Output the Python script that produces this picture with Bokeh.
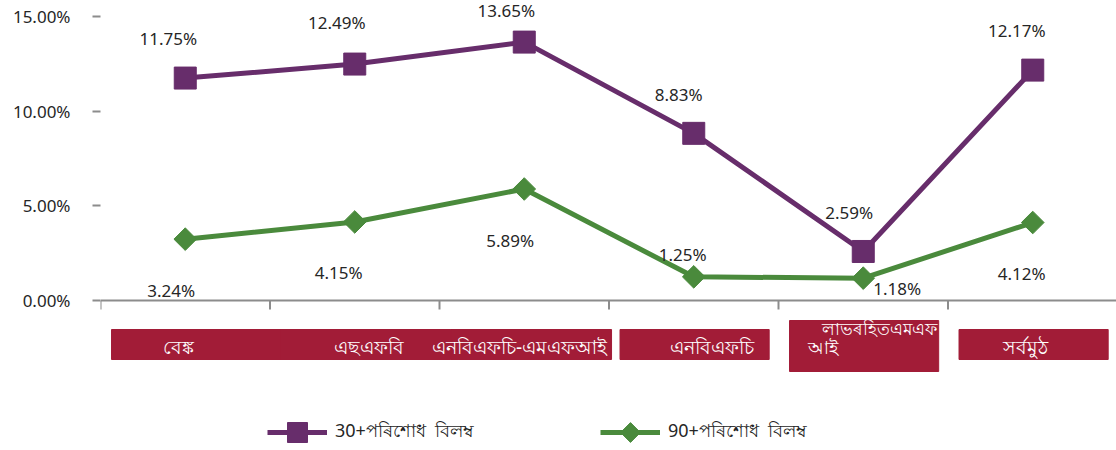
import math
from bokeh.plotting import figure
from bokeh.models import (Legend, LegendItem, FixedTicker, PrintfTickFormatter,
                          ColumnDataSource, Range1d)
from bokeh.core.properties import value
from bokeh.embed import file_html
from bokeh.resources import INLINE

# ---------------- data ----------------
categories = ["বেঙ্ক", "এছএফবি", "এনবিএফচি-এমএফআই", "এনবিএফচি", "লাভৰহিতএমএফআই", "সৰ্বমুঠ"]
series_names = ["30+পৰিশোধ  বিলম্ব", "90+পৰিশোধ  বিলম্ব"]
dpd30 = [11.75, 12.49, 13.65, 8.83, 2.59, 12.17]
dpd90 = [3.24, 4.15, 5.89, 1.25, 1.18, 4.12]
y_ticks = [0, 5, 10, 15]

# ---------------- style / layout ----------------
PURPLE = "#672D6B"
GREEN = "#4A8A3C"
RED = "#A21C37"
GREY = "#8C8C8C"
TXT = "#262626"
FONT = "Noto Sans"

W, H = 1116, 450
PX_PER_CAT = 169.5
PX_PER_UNIT = 18.93
LEFT = 100
AXIS_Y = 300
x_end = (W - LEFT) / PX_PER_CAT
y_top = AXIS_Y / PX_PER_UNIT
y_bot = y_top - H / PX_PER_UNIT


def px_x(px):   # page pixel -> data x
    return (px - LEFT) / PX_PER_CAT


def px_y(py):   # page pixel -> data y
    return (AXIS_Y - py) / PX_PER_UNIT


# label offsets (screen px) relative to each marker
off30 = [(-17, -40), (-18, -42), (-18, -32), (-15, -39), (-14, -39), (-16, -40)]
off90 = [(-14, 51), (-16, 51), (-14, 51), (-11, -22), (34, 10), (-11, 51)]

p = figure(width=W, height=H, output_backend="svg", toolbar_location=None,
           x_range=Range1d(0, x_end), y_range=Range1d(y_bot, y_top),
           x_axis_location=None, min_border_left=LEFT, min_border_right=0,
           min_border_top=0, min_border_bottom=0)
p.outline_line_color = None
p.grid.visible = False
p.background_fill_color = "white"

ax = p.yaxis[0]
ax.ticker = FixedTicker(ticks=y_ticks)
ax.formatter = PrintfTickFormatter(format="%.2f%%")
ax.axis_line_color = None
ax.major_tick_in = 0
ax.major_tick_out = 8
ax.major_tick_line_color = GREY
ax.major_tick_line_width = 2
ax.minor_tick_line_color = None
ax.major_label_standoff = 22
ax.major_label_text_font = FONT
ax.major_label_text_font_size = "17px"
ax.major_label_text_color = TXT

n = len(categories)
xs = [i + 0.5 for i in range(n)]

# x axis line and boundary ticks (drawn at y = 0)
tick_len = 9 / PX_PER_UNIT
p.segment(x0=[0], y0=[0], x1=[x_end], y1=[0], line_color=GREY, line_width=2)
p.segment(x0=list(range(n + 1)), y0=[0] * (n + 1), x1=list(range(n + 1)),
          y1=[-tick_len] * (n + 1), line_color=GREY, line_width=2)

# category label boxes
box_w = [1.0, 1.0, 0.95, 0.88, 0.88, 0.88]
box_top_px = [29, 29, 29, 29, 20, 29]
box_bot_px = [59, 59, 59, 59, 71, 59]
left = [i + 0.065 for i in range(n)]
p.quad(left=left, right=[l + w for l, w in zip(left, box_w)],
       top=[-t / PX_PER_UNIT for t in box_top_px],
       bottom=[-b / PX_PER_UNIT for b in box_bot_px],
       fill_color=RED, line_color=RED, line_width=1)

# category label texts (the 5th is wrapped over two lines)
lab_lines = [[categories[0]], [categories[1]], [categories[2]], [categories[3]],
             ["লাভৰহিতএমএফ", "আই"], [categories[5]]]
lab_x_px = [[78], [268], [419], [611], [836, 707], [925]]
lab_y_px = [[46], [46], [46], [46], [28, 46], [46]]
lab_align = [["center"], ["center"], ["center"], ["center"], ["right", "left"], ["center"]]
lab_size = [["19px"], ["19px"], ["19px"], ["19px"], ["17px", "18px"], ["19px"]]
tx, ty, tt, ta, ts = [], [], [], [], []
for i in range(n):
    for j, s in enumerate(lab_lines[i]):
        tx.append(lab_x_px[i][j] / PX_PER_CAT)
        ty.append(-lab_y_px[i][j] / PX_PER_UNIT)
        tt.append(s)
        ta.append(lab_align[i][j])
        ts.append(lab_size[i][j])
p.text(x="x", y="y", text="t", text_align="a", text_font_size="fs",
       source=ColumnDataSource(dict(x=tx, y=ty, t=tt, a=ta, fs=ts)),
       text_baseline="middle", text_color="white", text_font=value(FONT))

# series
l30 = p.line(xs, dpd30, line_color=PURPLE, line_width=5)
s30 = p.scatter(xs, dpd30, marker="square", size=22, fill_color=PURPLE, line_color=PURPLE)
l90 = p.line(xs, dpd90, line_color=GREEN, line_width=5)
s90 = p.scatter(xs, dpd90, marker="square", angle=math.pi / 4, size=16,
                fill_color=GREEN, line_color=GREEN)

# data labels
for vals, offs in ((dpd30, off30), (dpd90, off90)):
    src = ColumnDataSource(dict(x=xs, y=vals, t=["%.2f%%" % v for v in vals],
                                dx=[o[0] for o in offs], dy=[o[1] for o in offs]))
    p.text(x="x", y="y", text="t", x_offset="dx", y_offset="dy", source=src,
           text_align="center", text_baseline="middle", text_color=TXT,
           text_font=value(FONT), text_font_size="17px")

# legend: fixed label width so item positions are deterministic
LEG_X, GLYPH_W, STANDOFF, LABEL_W, SPACING = 167, 60, 8, 200, 65
legend = Legend(items=[LegendItem(label=series_names[0], renderers=[l30, s30]),
                       LegendItem(label=series_names[1], renderers=[l90])],
                orientation="horizontal", location=(LEG_X, -7),
                glyph_width=GLYPH_W, glyph_height=50, label_standoff=STANDOFF,
                label_width=LABEL_W, spacing=SPACING,
                padding=0, margin=0, border_line_color=None,
                background_fill_alpha=0, label_text_font=FONT,
                label_text_font_size="18px", label_text_color=TXT)
p.add_layout(legend, "center")

# rotated-square (diamond) key for the second legend item
item2_cx = LEFT + LEG_X + GLYPH_W + STANDOFF + LABEL_W + SPACING + GLYPH_W / 2
p.scatter([px_x(item2_cx)], [px_y(432)], marker="square", angle=math.pi / 4, size=14,
          fill_color=GREEN, line_color=GREEN)

open("out.html", "w").write(file_html(p, INLINE))
